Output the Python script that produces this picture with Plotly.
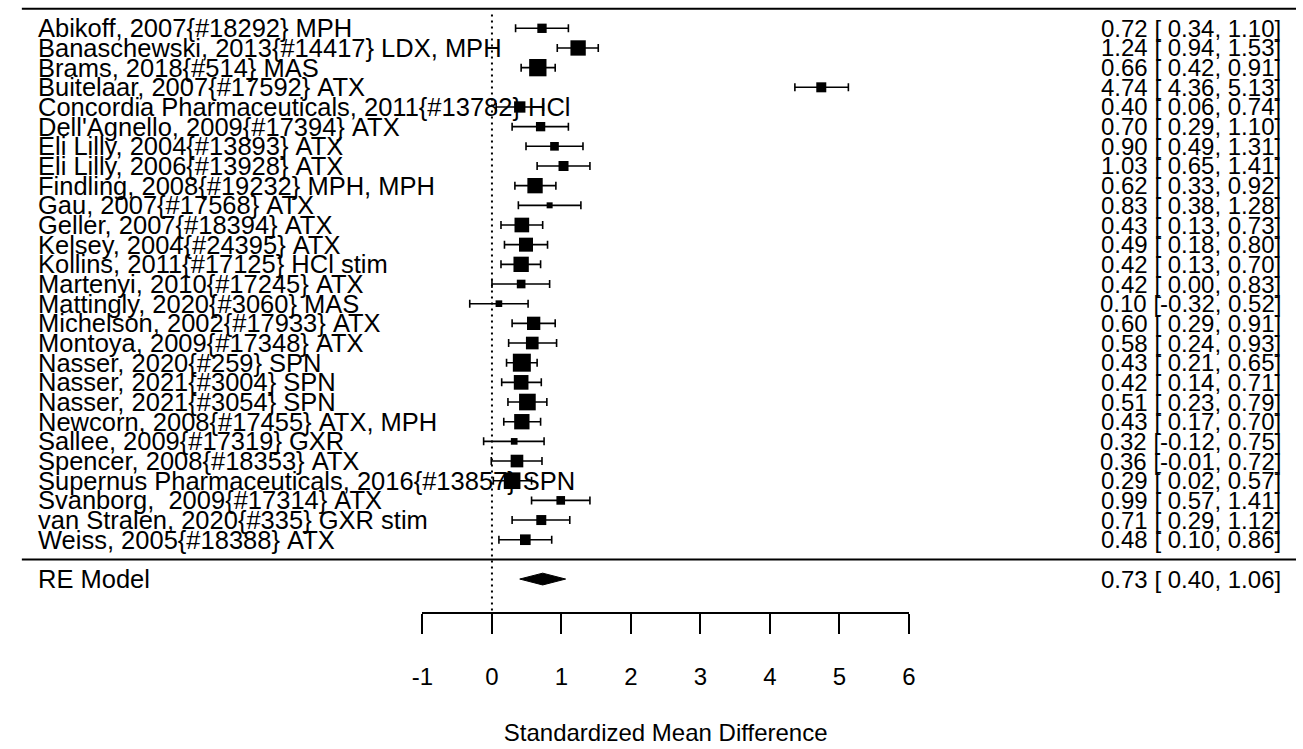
import plotly.graph_objects as go

# ---------------- data ----------------
studies = [
    "Abikoff, 2007{#18292} MPH",
    "Banaschewski, 2013{#14417} LDX, MPH",
    "Brams, 2018{#514} MAS",
    "Buitelaar, 2007{#17592} ATX",
    "Concordia Pharmaceuticals, 2011{#13782} HCl",
    "Dell'Agnello, 2009{#17394} ATX",
    "Eli Lilly, 2004{#13893} ATX",
    "Eli Lilly, 2006{#13928} ATX",
    "Findling, 2008{#19232} MPH, MPH",
    "Gau, 2007{#17568} ATX",
    "Geller, 2007{#18394} ATX",
    "Kelsey, 2004{#24395} ATX",
    "Kollins, 2011{#17125} HCl stim",
    "Martenyi, 2010{#17245} ATX",
    "Mattingly, 2020{#3060} MAS",
    "Michelson, 2002{#17933} ATX",
    "Montoya, 2009{#17348} ATX",
    "Nasser, 2020{#259} SPN",
    "Nasser, 2021{#3004} SPN",
    "Nasser, 2021{#3054} SPN",
    "Newcorn, 2008{#17455} ATX, MPH",
    "Sallee, 2009{#17319} GXR",
    "Spencer, 2008{#18353} ATX",
    "Supernus Pharmaceuticals, 2016{#13857} SPN",
    "Svanborg,  2009{#17314} ATX",
    "van Stralen, 2020{#335} GXR stim",
    "Weiss, 2005{#18388} ATX",
]
est = [0.72, 1.24, 0.66, 4.74, 0.40, 0.70, 0.90, 1.03, 0.62, 0.83, 0.43, 0.49, 0.42, 0.42,
       0.10, 0.60, 0.58, 0.43, 0.42, 0.51, 0.43, 0.32, 0.36, 0.29, 0.99, 0.71, 0.48]
ci_lb = [0.34, 0.94, 0.42, 4.36, 0.06, 0.29, 0.49, 0.65, 0.33, 0.38, 0.13, 0.18, 0.13, 0.00,
         -0.32, 0.29, 0.24, 0.21, 0.14, 0.23, 0.17, -0.12, -0.01, 0.02, 0.57, 0.29, 0.10]
ci_ub = [1.10, 1.53, 0.91, 5.13, 0.74, 1.10, 1.31, 1.41, 0.92, 1.28, 0.73, 0.80, 0.70, 0.83,
         0.52, 0.91, 0.93, 0.65, 0.71, 0.79, 0.70, 0.75, 0.72, 0.57, 1.41, 1.12, 0.86]
weights = [3.2, 4.1, 4.4, 3.3, 3.5, 3.2, 3.1, 3.3, 4.1, 2.7, 4.0, 3.9, 4.1, 3.1,
           2.8, 3.8, 3.7, 4.5, 4.0, 4.3, 4.1, 2.8, 3.7, 4.3, 3.1, 3.3, 3.4]

re_label = "RE Model"
re_est, re_lb, re_ub = 0.73, 0.40, 1.06

x_ticks = [-1, 0, 1, 2, 3, 4, 5, 6]
x_title = "Standardized Mean Difference"
refline = 0

# ---------------- layout constants ----------------
W, H = 1303, 749
PX_ZERO, PX_PER_UNIT = 487.7, 70.45
ROW_TOP_PX, ROW_H = 28.3, 19.67
k = len(studies)
rows = list(range(k, 0, -1))
re_row = -1
axis_row = -2.73

x_range = [-PX_ZERO / PX_PER_UNIT, (W - PX_ZERO) / PX_PER_UNIT]
y_range = [k - (H - ROW_TOP_PX) / ROW_H, k + ROW_TOP_PX / ROW_H]

FONT = "Liberation Sans, Arial, sans-serif"
LABEL_SIZE = 25.5
VALUE_SIZE = 24

wmin, wmax = min(weights), max(weights)
sizes = [6 + 12 * (w - wmin) / (wmax - wmin) for w in weights]

NB = "\u00a0"


def fmt(e, l, u):
    return (f"{e:.2f} [{l:5.2f}, {u:.2f}]").replace(" ", NB)


fig = go.Figure()

# reference line
fig.add_trace(go.Scatter(
    x=[refline, refline], y=[k + 0.7, axis_row], mode="lines",
    line=dict(color="black", width=2, dash="2px,4px"),
    hoverinfo="skip", showlegend=False))

# study estimates with CIs
fig.add_trace(go.Scatter(
    x=est, y=rows, mode="markers",
    marker=dict(symbol="square", size=sizes, color="black", opacity=1, line=dict(width=0)),
    error_x=dict(type="data", symmetric=False,
                 array=[u - e for u, e in zip(ci_ub, est)],
                 arrayminus=[e - l for e, l in zip(est, ci_lb)],
                 color="black", thickness=1.6, width=4),
    showlegend=False))

# summary diamond
dh = 0.3
fig.add_trace(go.Scatter(
    x=[re_lb, re_est, re_ub, re_est, re_lb],
    y=[re_row, re_row + dh, re_row, re_row - dh, re_row],
    mode="lines", fill="toself", fillcolor="black",
    line=dict(color="black", width=1), showlegend=False))

# invisible trace carrying the bottom axis
fig.add_trace(go.Scatter(
    x=x_ticks, y=[axis_row] * len(x_ticks), mode="markers",
    marker=dict(opacity=0), xaxis="x2", yaxis="y",
    hoverinfo="skip", showlegend=False))


def ann(x, y, text, anchor, size):
    return dict(x=x, xref="paper", y=y, yref="y", text=text,
                xanchor=anchor, yanchor="middle", showarrow=False,
                borderpad=0, borderwidth=0,
                font=dict(family=FONT, size=size, color="black"))


annotations = []
for r, s in zip(rows, studies):
    annotations.append(ann(27 / W, r, s.replace(" ", NB), "left", LABEL_SIZE))
for r, e, l, u in zip(rows, est, ci_lb, ci_ub):
    annotations.append(ann(1288 / W, r, fmt(e, l, u), "right", VALUE_SIZE))
annotations.append(ann(27 / W, re_row, re_label.replace(" ", NB), "left", LABEL_SIZE))
annotations.append(ann(1288 / W, re_row, fmt(re_est, re_lb, re_ub), "right", VALUE_SIZE))

shapes = [
    dict(type="line", xref="paper", yref="y", x0=11 / W, x1=1, y0=k + 1, y1=k + 1,
         line=dict(color="black", width=2)),
    dict(type="line", xref="paper", yref="y", x0=11 / W, x1=1, y0=0, y1=0,
         line=dict(color="black", width=2)),
]

x0_px = PX_ZERO + PX_PER_UNIT * x_ticks[0]
x1_px = PX_ZERO + PX_PER_UNIT * x_ticks[-1]
axis_pos = (axis_row - y_range[0]) / (y_range[1] - y_range[0])

fig.update_layout(
    width=W, height=H, autosize=False,
    margin=dict(l=0, r=0, t=0, b=0, pad=0),
    paper_bgcolor="white", plot_bgcolor="rgba(0,0,0,0)",
    font=dict(family=FONT, color="black"),
    xaxis=dict(range=x_range, domain=[0, 1], visible=False, fixedrange=True),
    yaxis=dict(range=y_range, domain=[0, 1], visible=False, fixedrange=True),
    xaxis2=dict(range=[x_ticks[0], x_ticks[-1]], domain=[x0_px / W, x1_px / W],
                anchor="free", position=axis_pos, side="bottom",
                showline=True, linecolor="black", linewidth=1.8,
                ticks="outside", ticklen=20, tickwidth=1.8, tickcolor="black",
                tickvals=x_ticks, ticktext=[str(t) for t in x_ticks],
                tickfont=dict(family=FONT, size=24, color="black"),
                ticklabelstandoff=22,
                showgrid=False, zeroline=False, fixedrange=True,
                title=dict(text=x_title, standoff=34,
                           font=dict(family=FONT, size=24, color="black"))),
    annotations=annotations, shapes=shapes,
    showlegend=False,
)

fig.write_html("out.html")
